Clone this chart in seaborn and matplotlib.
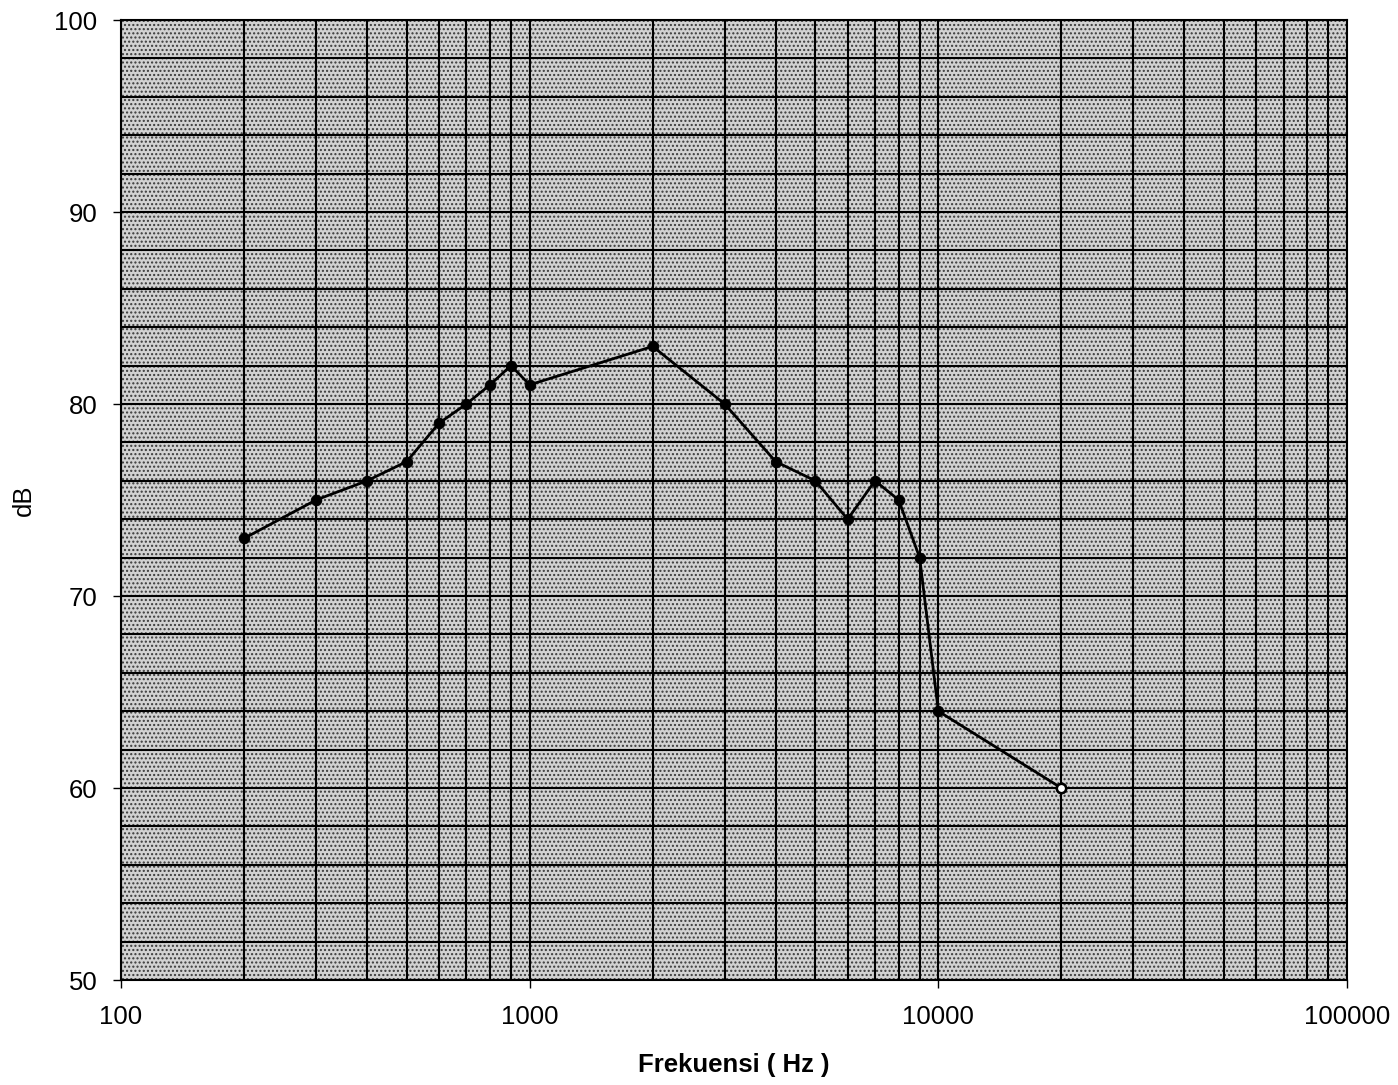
import numpy as np
import pandas as pd
import matplotlib
matplotlib.use("Agg")
import matplotlib.pyplot as plt
import matplotlib.ticker as mticker
from matplotlib.patches import Rectangle
import seaborn as sns

# ---- data ----
freq_hz = [200, 300, 400, 500, 600, 700, 800, 900, 1000,
           2000, 3000, 4000, 5000, 6000, 7000, 8000, 9000, 10000, 20000]
level_db = [73, 75, 76, 77, 79, 80, 81, 82, 81,
            83, 80, 77, 76, 74, 76, 75, 72, 64, 60]
x_ticks = [100, 1000, 10000, 100000]
y_ticks = [50, 60, 70, 80, 90, 100]
x_label = "Frekuensi ( Hz )"
y_label = "dB"

df = pd.DataFrame({"freq": freq_hz, "db": level_db})

sns.set_theme(style="ticks")
plt.rcParams["font.family"] = ["Liberation Sans", "DejaVu Sans"]
plt.rcParams["hatch.linewidth"] = 1.0
plt.rcParams["hatch.color"] = "#3a3a3a"

W, H = 1398, 1085
fig = plt.figure(figsize=(W / 100, H / 100), dpi=100)
left, right, top, bottom = 121, 1347, 20, 980
ax = fig.add_axes([left / W, 1 - bottom / H, (right - left) / W, (bottom - top) / H])

# stippled paper background
ax.patch.set_facecolor("#d6d6d6")
bg = Rectangle((0, 0), 1, 1, transform=ax.transAxes, facecolor="#d2d2d2",
               edgecolor="#3a3a3a", linewidth=0, hatch="....", zorder=0)
ax.add_patch(bg)

ax.set_xscale("log")
ax.set_xlim(100, 100000)
ax.set_ylim(50, 100)

ax.xaxis.set_major_locator(mticker.FixedLocator(x_ticks))
ax.xaxis.set_minor_locator(mticker.LogLocator(base=10, subs=np.arange(2, 10), numticks=20))
ax.xaxis.set_major_formatter(mticker.FuncFormatter(lambda v, _: f"{v:.0f}"))
ax.xaxis.set_minor_formatter(mticker.NullFormatter())
ax.yaxis.set_major_locator(mticker.FixedLocator(y_ticks))
ax.yaxis.set_minor_locator(mticker.MultipleLocator(2))

ax.grid(which="both", color="black", linewidth=1.5, zorder=1)
ax.set_axisbelow(True)

sns.lineplot(data=df, x="freq", y="db", ax=ax, color="black", linewidth=2.0,
             marker="o", markersize=7.5, markeredgecolor="black", zorder=3)
ax.scatter(df["freq"].iloc[-1:], df["db"].iloc[-1:], s=45, facecolor="white",
           edgecolor="black", linewidth=1.8, zorder=4)

for s in ax.spines.values():
    s.set_color("black")
    s.set_linewidth(1.5)

ax.tick_params(axis="both", which="major", direction="out", length=6, width=1,
               color="black", labelsize=18.5, labelcolor="black")
ax.tick_params(axis="x", which="major", pad=12)
ax.tick_params(axis="y", which="major", pad=11)
ax.tick_params(which="minor", length=0)

ax.set_xlabel(x_label, fontsize=18.5, fontweight="bold", labelpad=17, color="black")
ax.set_ylabel(y_label, fontsize=18.5, labelpad=13, color="black")

fig.savefig("out.png", dpi=100)
